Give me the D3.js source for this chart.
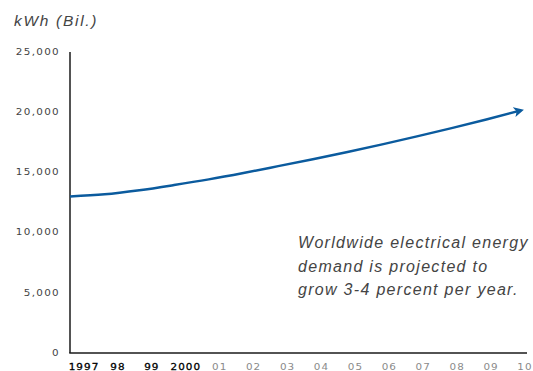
<!DOCTYPE html>
<html><head><meta charset="utf-8">
<script src="https://cdn.jsdelivr.net/npm/d3@7"></script>
<style>
html,body{margin:0;padding:0;background:#fff;}
svg{display:block;}
</style></head>
<body>
<script>
const years = [1997,1998,1999,2000,2001,2002,2003,2004,2005,2006,2007,2008,2009,2010];
const demand = [13000,13180,13520,13950,14420,14950,15520,16100,16700,17330,17990,18680,19400,20150];
const xTickLabels = ["1997","98","99","2000","01","02","03","04","05","06","07","08","09","10"];
const yTicks = [0,5000,10000,15000,20000,25000];
const yTitle = "kWh (Bil.)";
const noteLines = ["Worldwide electrical energy","demand is projected to","grow 3-4 percent per year."];

const W = 533, H = 371;
const svg = d3.select("body").append("svg").attr("width", W).attr("height", H);

const y = d3.scaleLinear().domain([0,25000]).range([353,52]);
const x = d3.scaleLinear().domain([1997,2010]).range([70,521]);
const xLab = d3.scalePoint().domain(xTickLabels).range([84,525]);

// axes lines
svg.append("line").attr("x1",70).attr("x2",70).attr("y1",y(25000)).attr("y2",y(0))
  .attr("stroke","#1a1a1a").attr("stroke-width",1.5);
svg.append("line").attr("x1",69.25).attr("x2",527).attr("y1",y(0)).attr("y2",y(0))
  .attr("stroke","#1a1a1a").attr("stroke-width",1.5);

const SX = 1.3; // horizontal stretch for the wide square tick font
const numFmt = d3.format(",");
svg.append("g").selectAll("text").data(yTicks).join("text")
  .attr("transform",d=>`translate(60,${y(d)}) scale(${SX},1)`)
  .attr("dy","0.35em")
  .attr("text-anchor","end")
  .attr("font-family","DejaVu Sans, sans-serif").attr("font-size",8)
  .attr("letter-spacing","1px")
  .attr("fill","#444")
  .text(d=>numFmt(d));

svg.append("g").selectAll("text").data(xTickLabels).join("text")
  .attr("transform",d=>`translate(${xLab(d)},369.5) scale(${SX},1)`)
  .attr("text-anchor","middle")
  .attr("font-family","DejaVu Sans, sans-serif").attr("font-size",8)
  .attr("letter-spacing","0.8px")
  .attr("fill",(d,i)=> i<4 ? "#000" : "#8a8a8a")
  .attr("stroke",(d,i)=> i<4 ? "#000" : "none")
  .attr("stroke-width",0.25)
  .text(d=>d);

// title
svg.append("text").attr("x",14).attr("y",26)
  .attr("font-family","Liberation Sans, Arial, sans-serif").attr("font-style","italic")
  .attr("font-size",15.5).attr("letter-spacing","1.7px").attr("fill","#444")
  .text(yTitle);

// arrow marker
const defs = svg.append("defs");
defs.append("marker").attr("id","arrow").attr("viewBox","0 0 10 10")
  .attr("refX",7).attr("refY",5).attr("markerWidth",4).attr("markerHeight",4)
  .attr("orient","auto").attr("markerUnits","strokeWidth")
  .append("path").attr("d","M0,0 L10,5 L0,10 L2.5,5 Z").attr("fill","#0b5b9e");

// line
const pts = years.map((yr,i)=>[yr,demand[i]]);
const line = d3.line().x(d=>x(d[0])).y(d=>y(d[1])).curve(d3.curveMonotoneX);
svg.append("path").datum(pts).attr("d",line)
  .attr("fill","none").attr("stroke","#0b5b9e").attr("stroke-width",2.5)
  .attr("marker-end","url(#arrow)");

// annotation
svg.append("g").selectAll("text").data(noteLines).join("text")
  .attr("x",298).attr("y",(d,i)=>248+i*23.5)
  .attr("font-family","Liberation Sans, Arial, sans-serif").attr("font-style","italic")
  .attr("font-size",16).attr("letter-spacing","1.3px").attr("fill","#444")
  .text(d=>d);
</script>
</body></html>
